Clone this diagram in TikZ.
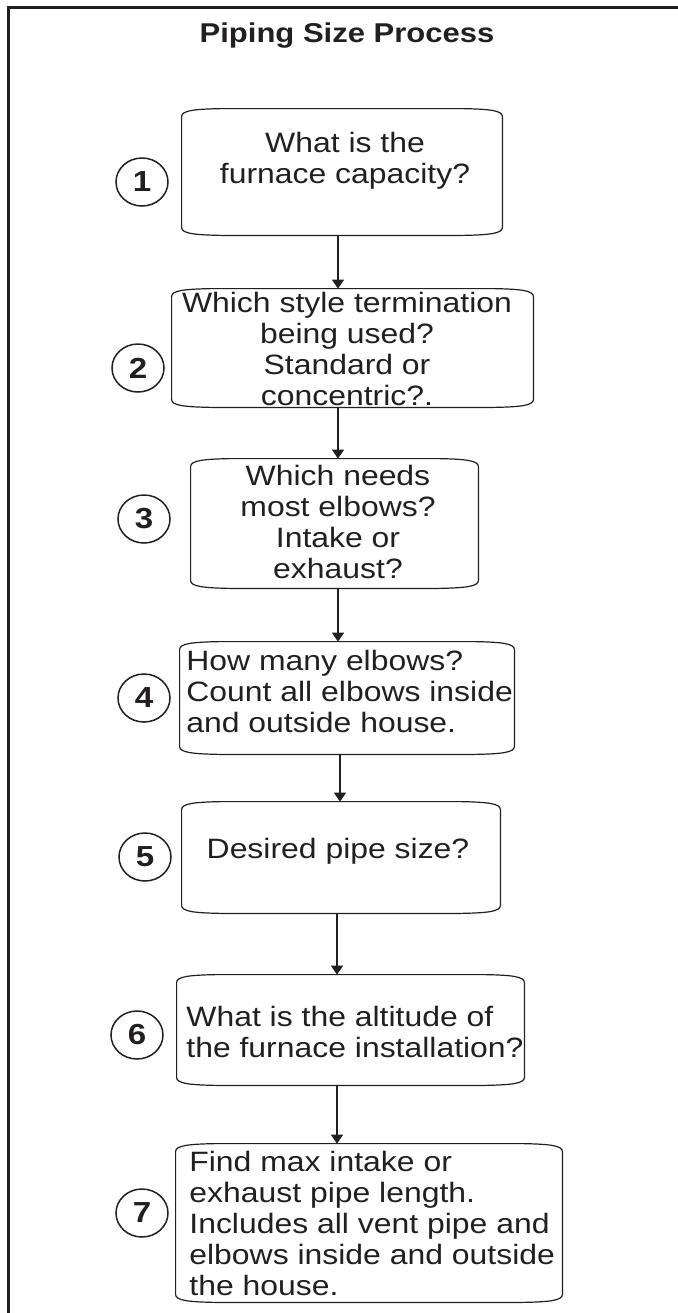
\documentclass[tikz,border=0pt]{standalone}
\usepackage{fontspec}
\setmainfont[FakeStretch=1.14]{Liberation Sans}
\usetikzlibrary{calc,fit,arrows.meta,shapes.geometric}
\definecolor{ink}{RGB}{35,31,32}
\newcommand{\pshape}[1]{%
  \draw[boxline] ($(#1.north west)+(0,8)$) -- ($(#1.south west)+(0,-8)$)
   .. controls ($(#1.south west)+(0,-2)$) and ($(#1.south west)+(12,-0.5)$) .. ($(#1.south west)+(40,0)$)
   -- ($(#1.south east)+(-40,0)$)
   .. controls ($(#1.south east)+(-12,-0.5)$) and ($(#1.south east)+(0,-2)$) .. ($(#1.south east)+(0,-8)$)
   -- ($(#1.north east)+(0,8)$)
   .. controls ($(#1.north east)+(0,2)$) and ($(#1.north east)+(-12,0.5)$) .. ($(#1.north east)+(-40,0)$)
   -- ($(#1.north west)+(40,0)$)
   .. controls ($(#1.north west)+(12,0.5)$) and ($(#1.north west)+(0,2)$) .. cycle;}
\tikzset{
  boxline/.style={draw=ink, line width=0.6pt},
  pbox/.style={inner sep=0pt, draw=none},
  txt/.style={inner sep=0pt, text=ink, font=\fontsize{14}{15.5}\selectfont},
  ctxt/.style={txt, align=center},
  ltxt/.style={txt, align=left},
  num/.style={ellipse, draw=ink, line width=0.75pt, minimum width=26pt, minimum height=24pt, inner sep=0pt, text=ink, font=\fontsize{14.5}{16}\selectfont\bfseries},
  arr/.style={draw=ink, line width=0.75pt, -{Triangle[width=6pt,length=4.5pt]}},
  frame/.style={draw=ink, line width=1.3pt},
  ttl/.style={inner sep=0pt, text=ink, font=\fontsize{13.6}{16}\selectfont\bfseries}
}
\begin{document}
\begin{tikzpicture}[x=0.5pt,y=-0.5pt]
\useasboundingbox (0,0) rectangle (678,1313);
% frame (open on right and bottom)
\coordinate (fbl) at (8.5,1313);
\coordinate (ftl) at (8.5,7.5);
\coordinate (ftr) at (678,7.5);
\draw[frame] (fbl) -- (ftl) -- (ftr);
% title
\node[ttl, anchor=base] (title) at (347,42) {Piping Size Process};
% boxes
\node[pbox, fit={(182,109) (502,235)}] (b1) {};
\node[pbox, fit={(172,289) (533,407)}] (b2) {};
\node[pbox, fit={(191,459) (478,588)}] (b3) {};
\node[pbox, fit={(180,642) (514,754)}] (b4) {};
\node[pbox, fit={(182,802) (500,913)}] (b5) {};
\node[pbox, fit={(177,975) (524,1085)}] (b6) {};
\node[pbox, fit={(176,1144) (562,1302)}] (b7) {};
\foreach \b in {b1,b2,b3,b4,b5,b6,b7} {\pshape{\b}}
% texts (anchored on the baseline of their last line)
\node[ctxt, anchor=base] (t1) at (345,183) {What is the\\furnace capacity?};
\node[ctxt, anchor=base] (t2) at (347,405) {Which style termination\\being used?\\Standard or\\concentric?.};
\node[ctxt, anchor=base] (t3) at (338,578) {Which needs\\most elbows?\\Intake or\\exhaust?};
\node[ltxt, anchor=base west] (t4) at (186,732) {How many elbows?\\Count all elbows inside\\and outside house.};
\node[ctxt, anchor=base] (t5) at (338,858) {Desired pipe size?};
\node[ltxt, anchor=base west] (t6) at (186,1057) {What is the altitude of\\the furnace installation?};
\node[ltxt, anchor=base west] (t7) at (189,1295) {Find max intake or\\exhaust pipe length.\\Includes all vent pipe and\\elbows inside and outside\\the house.};
% step numbers
\node[num] (n1) at (142,182) {1};
\node[num] (n2) at (138,368) {2};
\node[num] (n3) at (144,519) {3};
\node[num] (n4) at (144,698) {4};
\node[num] (n5) at (145,857) {5};
\node[num] (n6) at (137,1035) {6};
\node[num] (n7) at (142,1213) {7};
% connectors
\coordinate (a1) at (338,0);
\coordinate (a2) at (338,0);
\coordinate (a3) at (338,0);
\coordinate (a4) at (340,0);
\coordinate (a5) at (337,0);
\coordinate (a6) at (337,0);
\draw[arr] (b1.south -| a1) -- (b2.north -| a1);
\draw[arr] (b2.south -| a2) -- (b3.north -| a2);
\draw[arr] (b3.south -| a3) -- (b4.north -| a3);
\draw[arr] (b4.south -| a4) -- (b5.north -| a4);
\draw[arr] (b5.south -| a5) -- (b6.north -| a5);
\draw[arr] (b6.south -| a6) -- (b7.north -| a6);
\end{tikzpicture}
\end{document}
